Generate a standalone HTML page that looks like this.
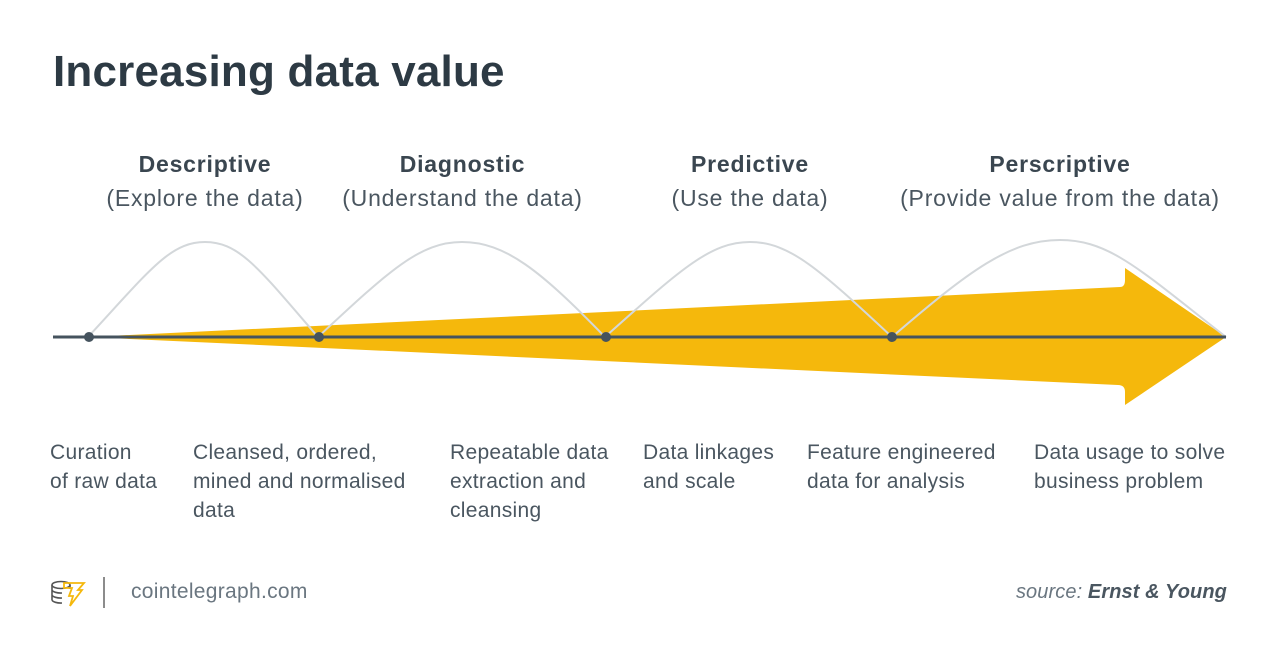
<!DOCTYPE html>
<html><head><meta charset="utf-8"><style>
body{margin:0;width:1280px;height:663px;background:#fff;font-family:"Liberation Sans",sans-serif;position:relative;overflow:hidden;color:#3c4852}
.a{position:absolute}
h1{position:absolute;left:53px;top:47px;margin:0;font-size:44px;letter-spacing:0.2px;font-weight:bold;color:#2d3a44}
.h{position:absolute;text-align:center;font-size:23px;letter-spacing:0.8px;line-height:34px;color:#4a5660}
.h b{color:#3a4650}
.l{position:absolute;font-size:21px;letter-spacing:0.3px;line-height:29px;color:#4a5660}
</style></head><body>
<h1>Increasing data value</h1>
<svg class="a" style="left:0;top:0" width="1280" height="663">
<path d="M88 337 L1120 287 Q1125 287 1125 280 L1125 268 L1226 337 L1125 405 L1125 392 Q1125 385 1118 385 Z" fill="#f5b80c"/>
<g fill="none" stroke="#d3d7da" stroke-width="2">
<path d="M88 337 C150 270 170 242 205 242 C240 242 260 270 318 337"/>
<path d="M318 337 C390 270 420 242 462 242 C505 242 540 270 605 337"/>
<path d="M605 337 C680 270 710 242 750 242 C790 242 820 270 892 337"/>
<path d="M892 337 C970 270 1010 240 1060 240 C1110 240 1140 270 1226 337"/>
</g>
<line x1="53" y1="337" x2="1226" y2="337" stroke="#45535e" stroke-width="3"/>
<g fill="#45535e"><circle cx="89" cy="337" r="5"/><circle cx="319" cy="337" r="5"/><circle cx="606" cy="337" r="5"/><circle cx="892" cy="337" r="5"/></g>
<g fill="none" stroke="#555" stroke-width="1.6"><ellipse cx="61" cy="585" rx="9" ry="3.5"/><path d="M52 585v15M70 585v4M52 590a9 3.5 0 0 0 10 3M52 595a9 3.5 0 0 0 10 3M52 600a9 3.5 0 0 0 10 3"/></g>
<path d="M64 583h20l-6 7h4l-12 16 3-10h-4l3-8h-8z" fill="none" stroke="#f5b80c" stroke-width="1.8"/>
<line x1="104" y1="577" x2="104" y2="608" stroke="#666" stroke-width="1.5"/>
</svg>
<div class="h" style="left:80px;width:250px;top:147px"><b>Descriptive</b><br>(Explore the data)</div>
<div class="h" style="left:310px;width:305px;top:147px"><b>Diagnostic</b><br>(Understand the data)</div>
<div class="h" style="left:630px;width:240px;top:147px"><b>Predictive</b><br>(Use the data)</div>
<div class="h" style="left:860px;width:400px;top:147px"><b>Perscriptive</b><br>(Provide value from the data)</div>
<div class="l" style="left:50px;top:438px">Curation<br>of raw data</div>
<div class="l" style="left:193px;top:438px">Cleansed, ordered,<br>mined and normalised<br>data</div>
<div class="l" style="left:450px;top:438px">Repeatable data<br>extraction and<br>cleansing</div>
<div class="l" style="left:643px;top:438px">Data linkages<br>and scale</div>
<div class="l" style="left:807px;top:438px">Feature engineered<br>data for analysis</div>
<div class="l" style="left:1034px;top:438px">Data usage to solve<br>business problem</div>
<div class="a" style="left:131px;top:580px;font-size:21px;letter-spacing:0.3px;color:#6a7680">cointelegraph.com</div>
<div class="a" style="right:53px;top:581px;font-size:20px;letter-spacing:0.1px;color:#6a7680;font-style:italic">source: <b style="color:#4a5660">Ernst &amp; Young</b></div>
</body></html>
